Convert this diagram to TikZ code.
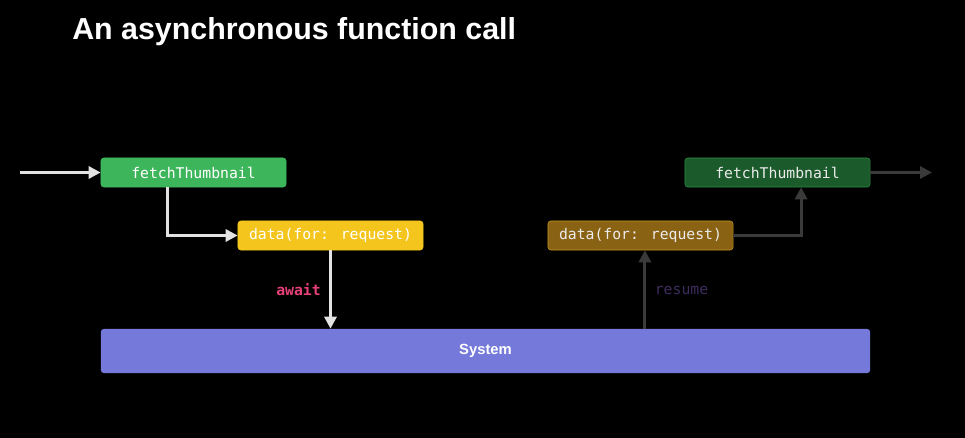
\documentclass[tikz,border=0pt]{standalone}
\usepackage{fontspec}
\setmainfont{Liberation Sans}
\newfontfamily\codefont{DejaVu Sans Mono}
\usetikzlibrary{arrows.meta, positioning}
\definecolor{callgreen}{HTML}{3DB55B}
\definecolor{callgreendark}{HTML}{1B5A2B}
\definecolor{callgreenedge}{HTML}{2F8A44}
\definecolor{datayellow}{HTML}{F4C51C}
\definecolor{databrown}{HTML}{8A6214}
\definecolor{databrownedge}{HTML}{C0951F}
\definecolor{systemblue}{HTML}{7579DA}
\definecolor{awaitpink}{HTML}{E8407A}
\definecolor{resumepurple}{HTML}{3D2D5E}
\definecolor{flowlight}{HTML}{E2E2E2}
\definecolor{flowdark}{HTML}{3A3A3A}

\begin{document}
\begin{tikzpicture}[x=0.025cm, y=-0.025cm,
  callbox/.style={rectangle, rounded corners=2pt, minimum width=4.625cm, minimum height=0.725cm, inner sep=0pt, font=\codefont\fontsize{10.5}{12}\selectfont},
  flow/.style={line width=2.2pt, -{Triangle[length=3mm, width=3mm]}},
  flowlabel/.style={font=\codefont\fontsize{10.5}{12}\selectfont}]
\fill[black] (0,0) rectangle (965,438);

% title
\node[anchor=base west, inner sep=0pt, text=white, font=\fontsize{21.6}{26}\selectfont\bfseries] (title) at (72,40) {An asynchronous function call};

% boxes
\node[callbox, draw=callgreen, fill=callgreen, text=white] (fetchA) at (193.5,172.5) {fetchThumbnail};
\node[callbox, draw=datayellow, fill=datayellow, text=white] (dataA) at (330.5,235.5) {data(for: request)};
\node[callbox, draw=databrownedge, fill=databrown, text=white!92!black] (dataB) at (640.5,235.5) {data(for: request)};
\node[callbox, draw=callgreenedge, fill=callgreendark, text=white!92!black] (fetchB) at (777.5,172.5) {fetchThumbnail};
\node[rectangle, rounded corners=2pt, minimum width=19.225cm, minimum height=1.1cm, fill=systemblue, text=white, font=\fontsize{10.5}{12}\selectfont\bfseries] (system) at (485.5,351) {System};

\coordinate (start) at (20,172.5);
\coordinate (finish) at (932,172.5);

% connectors
\draw[flow, flowlight] (start) -- (fetchA.west);
\draw[flow, flowlight] ([xshift=-0.64cm]fetchA.south) |- (dataA.west);
\draw[flow, flowlight] (dataA.south) -- (dataA.south |- system.north);
\draw[flow, flowdark] ([xshift=0.11cm]dataB.south |- system.north) -- ([xshift=0.11cm]dataB.south);
\draw[flow, flowdark] (dataB.east) -| ([xshift=0.59cm]fetchB.south);
\draw[flow, flowdark] (fetchB.east) -- (finish);

% labels
\node[flowlabel, text=awaitpink, font=\codefont\fontsize{10.5}{12}\selectfont\bfseries] (awaitlabel) at (298.5,290) {await};
\node[flowlabel, text=resumepurple] (resumelabel) at (681.5,290) {resume};
\end{tikzpicture}
\end{document}
